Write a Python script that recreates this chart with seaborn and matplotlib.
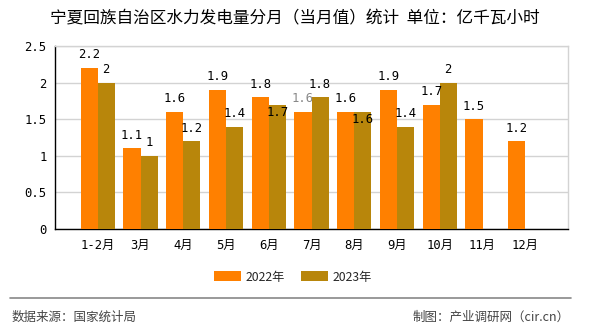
import matplotlib
matplotlib.use("Agg")
import matplotlib.pyplot as plt
import seaborn as sns
import numpy as np
import pandas as pd
from matplotlib.patches import Patch

months = ["1-2月", "3月", "4月", "5月", "6月", "7月", "8月", "9月", "10月", "11月", "12月"]
values_2022 = [2.2, 1.1, 1.6, 1.9, 1.8, 1.6, 1.6, 1.9, 1.7, 1.5, 1.2]
values_2023 = [2.0, 1.0, 1.2, 1.4, 1.7, 1.8, 1.6, 1.4, 2.0, np.nan, np.nan]
series_names = ["2022年", "2023年"]
colors = ["#FF8000", "#B8860B"]
y_ticks = [0, 0.5, 1, 1.5, 2, 2.5]
y_tick_labels = ["0", "0.5", "1", "1.5", "2", "2.5"]

title = "宁夏回族自治区水力发电量分月（当月值）统计  单位：亿千瓦小时"
source = "数据来源：国家统计局"
credit = "制图：产业调研网（cir.cn）"

df = pd.DataFrame({
    "month": months * 2,
    "value": values_2022 + values_2023,
    "year": [series_names[0]] * len(months) + [series_names[1]] * len(months),
})

sns.set_theme(style="white")
plt.rcParams["font.family"] = ["Noto Sans CJK SC", "DejaVu Sans"]
mono = ["DejaVu Sans Mono", "Noto Sans CJK SC"]

fig = plt.figure(figsize=(5.9, 3.3), dpi=100)
ax = fig.add_axes([55 / 590, 1 - 229 / 330, (568 - 55) / 590, (229 - 46) / 330])

sns.barplot(data=df, x="month", y="value", hue="year", palette=colors,
            width=0.8, saturation=1, ax=ax, legend=False, zorder=3,
            linewidth=0, edgecolor="none")

ax.set_xlim(-1, 11)
ax.set_ylim(0, 2.5)
ax.set_xticks(range(-1, 12))
ax.set_xticklabels([""] + months + [""], family=mono, fontsize=8.8)
ax.set_xticks(range(1, 11), minor=True)
ax.set_yticks(y_ticks)
ax.set_yticklabels(y_tick_labels, family=mono, fontsize=8.8)
ax.set_xlabel("")
ax.set_ylabel("")

ax.grid(False)
ax.grid(axis="y", which="major", color="#d3d3d3", linewidth=1, zorder=0)
ax.grid(axis="x", which="minor", color="#d3d3d3", linewidth=1, zorder=0)
ax.set_axisbelow(True)

for s in ["left", "bottom"]:
    ax.spines[s].set_color("black")
    ax.spines[s].set_linewidth(1)
for s in ["top", "right"]:
    ax.spines[s].set_color("#d3d3d3")
    ax.spines[s].set_linewidth(1)

ax.tick_params(axis="both", which="major", direction="out", length=4, width=1,
               color="black", pad=2, labelcolor="black")
ax.tick_params(axis="x", which="minor", length=0)
ax.tick_params(axis="x", which="major", pad=3)

# data labels
shift_down = {(1, 4), (1, 6)}
gray_labels = {(0, 5)}
for si, cont in enumerate(ax.containers):
    for ci, bar in enumerate(cont):
        h = bar.get_height()
        if h is None or np.isnan(h):
            continue
        vals = values_2022 if si == 0 else values_2023
        v = vals[ci]
        txt = f"{v:g}"
        off = -8 if (si, ci) in shift_down else 13
        col = "#888888" if (si, ci) in gray_labels else "black"
        ax.annotate(txt, (bar.get_x() + bar.get_width() / 2, h),
                    xytext=(0, off), textcoords="offset pixels",
                    ha="center", va="center", fontsize=8.8, family=mono,
                    color=col, zorder=5)

fig.text(0.5, 1 - 19 / 330, title, ha="center", va="center", fontsize=12,
         fontweight="medium", color="black")

handles = [Patch(facecolor=c, edgecolor="none") for c in colors]
fig.legend(handles, series_names, loc="center", bbox_to_anchor=(0.497, 1 - 277 / 330),
           ncol=2, frameon=False, fontsize=8.8, handlelength=2.2, handleheight=0.9,
           handletextpad=0.4, columnspacing=1.3)

fig.add_artist(plt.Line2D([10 / 590, 571 / 590], [1 - 298 / 330] * 2,
                          transform=fig.transFigure, color="#888888", linewidth=1.2))
fig.text(12 / 590, 1 - 317 / 330, source, ha="left", va="center", fontsize=9, color="#444444")
fig.text(570 / 590, 1 - 317 / 330, credit, ha="right", va="center", fontsize=9, color="#444444")

fig.savefig("out.png", dpi=100)
